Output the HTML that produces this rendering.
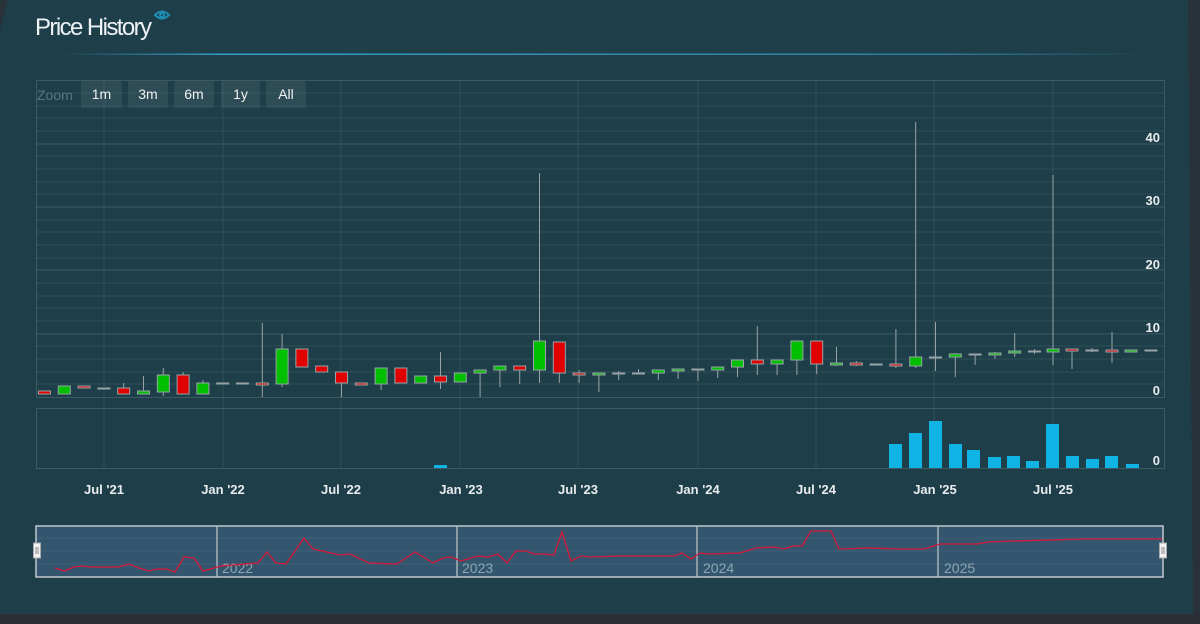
<!DOCTYPE html>
<html><head><meta charset="utf-8"><style>
html,body{margin:0;padding:0;width:1200px;height:624px;overflow:hidden;background:#1e3f4a;font-family:"Liberation Sans",sans-serif}
</style></head><body>
<svg width="1200" height="624" viewBox="0 0 1200 624" xmlns="http://www.w3.org/2000/svg" style="position:absolute;left:0;top:0">
<defs>
<linearGradient id="ul" x1="0" x2="1" y1="0" y2="0">
<stop offset="0" stop-color="#3aa8d8" stop-opacity="0"/><stop offset="0.15" stop-color="#3aa8d8" stop-opacity="0.9"/><stop offset="0.8" stop-color="#3aa8d8" stop-opacity="0.6"/><stop offset="1" stop-color="#3aa8d8" stop-opacity="0"/>
</linearGradient>
</defs>
<rect width="1200" height="624" fill="#1e3f4a"/>
<rect y="614" width="1200" height="10" fill="#2b2f33"/>
<polygon points="1188,0 1200,0 1200,614 1193,614" fill="#2b2f33" opacity="0.8"/>
<polygon points="0,0 8,0 0,30" fill="#2b2f33" opacity="0.8"/>
<text x="35" y="35" font-family="'Liberation Sans Narrow','Liberation Sans',sans-serif" font-size="24" fill="#eef2f4" textLength="117">Price History</text>
<g fill="none" stroke="#1d8fb5" stroke-width="2"><path d="M155,15 q7,-7 14,0 q-7,7 -14,0z"/><circle cx="162" cy="15" r="2"/></g>
<rect x="60" y="53.5" width="1090" height="1.5" fill="url(#ul)"/>
<!-- grid -->
<g stroke="#ffffff" stroke-opacity="0.07" stroke-width="1">
<line x1="36" x2="1164" y1="93" y2="93"/><line x1="36" x2="1164" y1="106" y2="106"/><line x1="36" x2="1164" y1="118" y2="118"/><line x1="36" x2="1164" y1="131" y2="131"/><line x1="36" x2="1164" y1="156" y2="156"/><line x1="36" x2="1164" y1="169" y2="169"/><line x1="36" x2="1164" y1="182" y2="182"/><line x1="36" x2="1164" y1="194" y2="194"/><line x1="36" x2="1164" y1="220" y2="220"/><line x1="36" x2="1164" y1="232" y2="232"/><line x1="36" x2="1164" y1="245" y2="245"/><line x1="36" x2="1164" y1="258" y2="258"/><line x1="36" x2="1164" y1="283" y2="283"/><line x1="36" x2="1164" y1="296" y2="296"/><line x1="36" x2="1164" y1="308" y2="308"/><line x1="36" x2="1164" y1="321" y2="321"/><line x1="36" x2="1164" y1="346" y2="346"/><line x1="36" x2="1164" y1="359" y2="359"/><line x1="36" x2="1164" y1="372" y2="372"/><line x1="36" x2="1164" y1="384" y2="384"/>
<line x1="104" x2="104" y1="80" y2="468"/><line x1="223" x2="223" y1="80" y2="468"/><line x1="341" x2="341" y1="80" y2="468"/><line x1="460" x2="460" y1="80" y2="468"/><line x1="578" x2="578" y1="80" y2="468"/><line x1="698" x2="698" y1="80" y2="468"/><line x1="816" x2="816" y1="80" y2="468"/><line x1="934" x2="934" y1="80" y2="468"/><line x1="1053" x2="1053" y1="80" y2="468"/>
</g>
<g stroke="#ffffff" stroke-opacity="0.14" stroke-width="1" fill="none">
<line x1="36" x2="1164" y1="144" y2="144"/><line x1="36" x2="1164" y1="207" y2="207"/><line x1="36" x2="1164" y1="270" y2="270"/><line x1="36" x2="1164" y1="334" y2="334"/>
<rect x="36.5" y="80.5" width="1128" height="317"/>
<rect x="36.5" y="408.5" width="1128" height="60"/>
</g>
<!-- zoom buttons -->
<text x="37" y="100" font-size="14" fill="#5b7580">Zoom</text>
<g fill="#ffffff" fill-opacity="0.07"><rect x="81" y="81" width="41" height="27" rx="2"/><rect x="128" y="81" width="40" height="27" rx="2"/><rect x="174" y="81" width="40" height="27" rx="2"/><rect x="221" y="81" width="39" height="27" rx="2"/><rect x="266" y="81" width="40" height="27" rx="2"/></g>
<g font-size="14" fill="#f2f2f2" text-anchor="middle"><text x="101.5" y="99">1m</text><text x="148" y="99">3m</text><text x="194" y="99">6m</text><text x="240.5" y="99">1y</text><text x="286" y="99">All</text></g>
<!-- y labels -->
<g font-size="13" font-weight="bold" fill="#e8ecee" text-anchor="end">
<text x="1160" y="142">40</text><text x="1160" y="205">30</text><text x="1160" y="269">20</text><text x="1160" y="332">10</text><text x="1160" y="395">0</text><text x="1160" y="465">0</text>
</g>
<g font-size="13" font-weight="bold" fill="#e8ecee" text-anchor="middle">
<text x="104" y="494">Jul '21</text><text x="223" y="494">Jan '22</text><text x="341" y="494">Jul '22</text><text x="461" y="494">Jan '23</text><text x="578" y="494">Jul '23</text><text x="698" y="494">Jan '24</text><text x="816" y="494">Jul '24</text><text x="935" y="494">Jan '25</text><text x="1053" y="494">Jul '25</text>
</g>
<!-- wicks -->
<g stroke="#9aa4a8" stroke-width="1">
<line x1="123.7" x2="123.7" y1="383" y2="394"/><line x1="143.5" x2="143.5" y1="376" y2="394"/><line x1="163.3" x2="163.3" y1="368" y2="396"/><line x1="183.1" x2="183.1" y1="372" y2="394"/><line x1="202.9" x2="202.9" y1="380" y2="394"/>
<line x1="262.3" x2="262.3" y1="323" y2="397"/><line x1="282.1" x2="282.1" y1="334" y2="387"/><line x1="341.5" x2="341.5" y1="372" y2="397"/><line x1="381.1" x2="381.1" y1="368" y2="390"/><line x1="440.5" x2="440.5" y1="352" y2="389"/>
<line x1="480.1" x2="480.1" y1="370" y2="397"/><line x1="499.9" x2="499.9" y1="366" y2="387"/><line x1="519.7" x2="519.7" y1="366" y2="384"/><line x1="539.5" x2="539.5" y1="173" y2="383"/><line x1="559.3" x2="559.3" y1="342" y2="383"/>
<line x1="579.1" x2="579.1" y1="370" y2="383"/><line x1="598.9" x2="598.9" y1="373" y2="392"/><line x1="618.7" x2="618.7" y1="371" y2="380"/><line x1="638.5" x2="638.5" y1="369" y2="374"/><line x1="658.3" x2="658.3" y1="370" y2="380"/><line x1="678.1" x2="678.1" y1="369" y2="379"/><line x1="697.9" x2="697.9" y1="369" y2="381"/><line x1="717.7" x2="717.7" y1="367" y2="378"/><line x1="737.5" x2="737.5" y1="360" y2="377"/><line x1="757.3" x2="757.3" y1="326" y2="375"/><line x1="777.1" x2="777.1" y1="360" y2="375"/><line x1="796.9" x2="796.9" y1="341" y2="375"/><line x1="816.7" x2="816.7" y1="341" y2="374"/>
<line x1="836.5" x2="836.5" y1="347" y2="366"/><line x1="856.3" x2="856.3" y1="361" y2="366"/><line x1="895.9" x2="895.9" y1="329" y2="368"/><line x1="915.7" x2="915.7" y1="122" y2="368"/><line x1="935.5" x2="935.5" y1="322" y2="371"/><line x1="955.3" x2="955.3" y1="353" y2="377"/><line x1="975.1" x2="975.1" y1="354" y2="365"/><line x1="994.9" x2="994.9" y1="352" y2="359"/><line x1="1014.7" x2="1014.7" y1="333" y2="357"/><line x1="1034.5" x2="1034.5" y1="349" y2="354"/><line x1="1053" x2="1053" y1="175" y2="365"/><line x1="1072" x2="1072" y1="349" y2="369"/><line x1="1092" x2="1092" y1="348" y2="352"/><line x1="1112" x2="1112" y1="332" y2="363"/>
</g>
<!-- bodies -->
<g stroke="#9aa4a8" stroke-width="1">
<rect x="38.5" y="391" width="12" height="3" fill="#e00000"/>
<rect x="58.3" y="386" width="12" height="8" fill="#00c000"/>
<rect x="78.1" y="386" width="12" height="2" fill="#e00000"/>
<rect x="97.9" y="388" width="12" height="1" fill="#888"/>
<rect x="117.7" y="388" width="12" height="6" fill="#e00000"/>
<rect x="137.5" y="391" width="12" height="3" fill="#00c000"/>
<rect x="157.3" y="375" width="12" height="17" fill="#00c000"/>
<rect x="177.1" y="375" width="12" height="19" fill="#e00000"/>
<rect x="196.9" y="383" width="12" height="11" fill="#00c000"/>
<rect x="216.7" y="383" width="12" height="1" fill="#888"/>
<rect x="236.5" y="383" width="12" height="1" fill="#888"/>
<rect x="256.3" y="383" width="12" height="2" fill="#e00000"/>
<rect x="276.1" y="349" width="12" height="35" fill="#00c000"/>
<rect x="295.9" y="349" width="12" height="18" fill="#e00000"/>
<rect x="315.7" y="366" width="12" height="6" fill="#e00000"/>
<rect x="335.5" y="372" width="12" height="11" fill="#e00000"/>
<rect x="355.3" y="383" width="12" height="2" fill="#e00000"/>
<rect x="375.1" y="368" width="12" height="16" fill="#00c000"/>
<rect x="394.9" y="368" width="12" height="15" fill="#e00000"/>
<rect x="414.7" y="376" width="12" height="7" fill="#00c000"/>
<rect x="434.5" y="376" width="12" height="6" fill="#e00000"/>
<rect x="454.3" y="373" width="12" height="9" fill="#00c000"/>
<rect x="474.1" y="370" width="12" height="3" fill="#00c000"/>
<rect x="493.9" y="366" width="12" height="4" fill="#00c000"/>
<rect x="513.7" y="366" width="12" height="4" fill="#e00000"/>
<rect x="533.5" y="341" width="12" height="29" fill="#00c000"/>
<rect x="553.3" y="342" width="12" height="31" fill="#e00000"/>
<rect x="573.1" y="373" width="12" height="2" fill="#e00000"/>
<rect x="592.9" y="373" width="12" height="2" fill="#00c000"/>
<rect x="612.7" y="373" width="12" height="1" fill="#888"/>
<rect x="632.5" y="373" width="12" height="1" fill="#888"/>
<rect x="652.3" y="370" width="12" height="3" fill="#00c000"/>
<rect x="672.1" y="369" width="12" height="2" fill="#00c000"/>
<rect x="691.9" y="369" width="12" height="1" fill="#888"/>
<rect x="711.7" y="367" width="12" height="3" fill="#00c000"/>
<rect x="731.5" y="360" width="12" height="7" fill="#00c000"/>
<rect x="751.3" y="360" width="12" height="4" fill="#e00000"/>
<rect x="771.1" y="360" width="12" height="4" fill="#00c000"/>
<rect x="790.9" y="341" width="12" height="19" fill="#00c000"/>
<rect x="810.7" y="341" width="12" height="23" fill="#e00000"/>
<rect x="830.5" y="363" width="12" height="2" fill="#00c000"/>
<rect x="850.3" y="363" width="12" height="2" fill="#e00000"/>
<rect x="870.1" y="364" width="12" height="1" fill="#888"/>
<rect x="889.9" y="364" width="12" height="2" fill="#e00000"/>
<rect x="909.7" y="357" width="12" height="9" fill="#00c000"/>
<rect x="929.5" y="357" width="12" height="1" fill="#888"/>
<rect x="949.3" y="354" width="12" height="3" fill="#00c000"/>
<rect x="969.1" y="354" width="12" height="1" fill="#888"/>
<rect x="988.9" y="353" width="12" height="2" fill="#00c000"/>
<rect x="1008.7" y="351" width="12" height="2" fill="#00c000"/>
<rect x="1028.5" y="351" width="12" height="1" fill="#888"/>
<rect x="1047" y="349" width="12" height="3" fill="#00c000"/>
<rect x="1066" y="349" width="12" height="2" fill="#e00000"/>
<rect x="1086" y="350" width="12" height="1" fill="#888"/>
<rect x="1106" y="350" width="12" height="2" fill="#e00000"/>
<rect x="1125" y="350" width="12" height="2" fill="#00c000"/>
<rect x="1145" y="350" width="12" height="1" fill="#888"/>
</g>
<!-- volume -->
<g fill="#0fb4e4">
<rect x="434" y="465" width="13" height="3"/>
<rect x="889" y="444" width="13" height="24"/>
<rect x="909" y="433" width="13" height="35"/>
<rect x="929" y="421" width="13" height="47"/>
<rect x="949" y="444" width="13" height="24"/>
<rect x="967" y="450" width="13" height="18"/>
<rect x="988" y="457" width="13" height="11"/>
<rect x="1007" y="456" width="13" height="12"/>
<rect x="1026" y="461" width="13" height="7"/>
<rect x="1046" y="424" width="13" height="44"/>
<rect x="1066" y="456" width="13" height="12"/>
<rect x="1086" y="459" width="13" height="9"/>
<rect x="1105" y="456" width="13" height="12"/>
<rect x="1126" y="464" width="13" height="4"/>
</g>
<!-- navigator -->
<rect x="36" y="526" width="1127" height="51" fill="#33566e"/>
<g stroke="#ffffff" stroke-opacity="0.05"><line x1="36" x2="1163" y1="538" y2="538"/><line x1="36" x2="1163" y1="551" y2="551"/><line x1="36" x2="1163" y1="564" y2="564"/></g>
<g stroke="#c0c8cc" stroke-width="1.2"><line x1="217" x2="217" y1="526" y2="577"/><line x1="457" x2="457" y1="526" y2="577"/><line x1="697" x2="697" y1="526" y2="577"/><line x1="938" x2="938" y1="526" y2="577"/></g>
<g font-family="'Liberation Sans Narrow','Liberation Sans',sans-serif" font-size="14" fill="#8fa6b2"><text x="222" y="573">2022</text><text x="462" y="573">2023</text><text x="703" y="573">2024</text><text x="944" y="573">2025</text></g>
<polyline fill="none" stroke="#d8183a" stroke-width="1.3" points="55,568 64,571 74,567 82,566 91,567 118,567 129,564 139,568 149,571 156,569 166,569 175,572 184,557 194,558 203,571 214,568 221,566 258,563 267,552 276,563 286,564 304,538 313,549 340,555 350,554 369,563 397,564 415,552 433,563 443,558 451,557 461,561 478,556 488,557 498,554 507,563 516,551 526,551 534,554 543,554 554,555 562,532 571,561 581,556 590,557 620,556 674,556 682,553 691,559 700,553 709,554 740,553 756,548 774,547 784,549 793,546 802,546 811,531 831,531 839,549 870,548 899,549 924,549 940,544 977,544 988,542 1013,541 1084,539 1120,539 1163,539"/>
<rect x="36" y="526" width="1127" height="51" fill="none" stroke="#c0c8cc" stroke-width="1.5"/>
<rect x="33.5" y="543" width="7" height="15" fill="#f2f2f2" stroke="#aaa"/>
<rect x="1159.5" y="543" width="7" height="15" fill="#f2f2f2" stroke="#aaa"/>
<g stroke="#888"><line x1="36" x2="36" y1="547" y2="554"/><line x1="38" x2="38" y1="547" y2="554"/><line x1="1162" x2="1162" y1="547" y2="554"/><line x1="1164" x2="1164" y1="547" y2="554"/></g>
</svg>
</body></html>
